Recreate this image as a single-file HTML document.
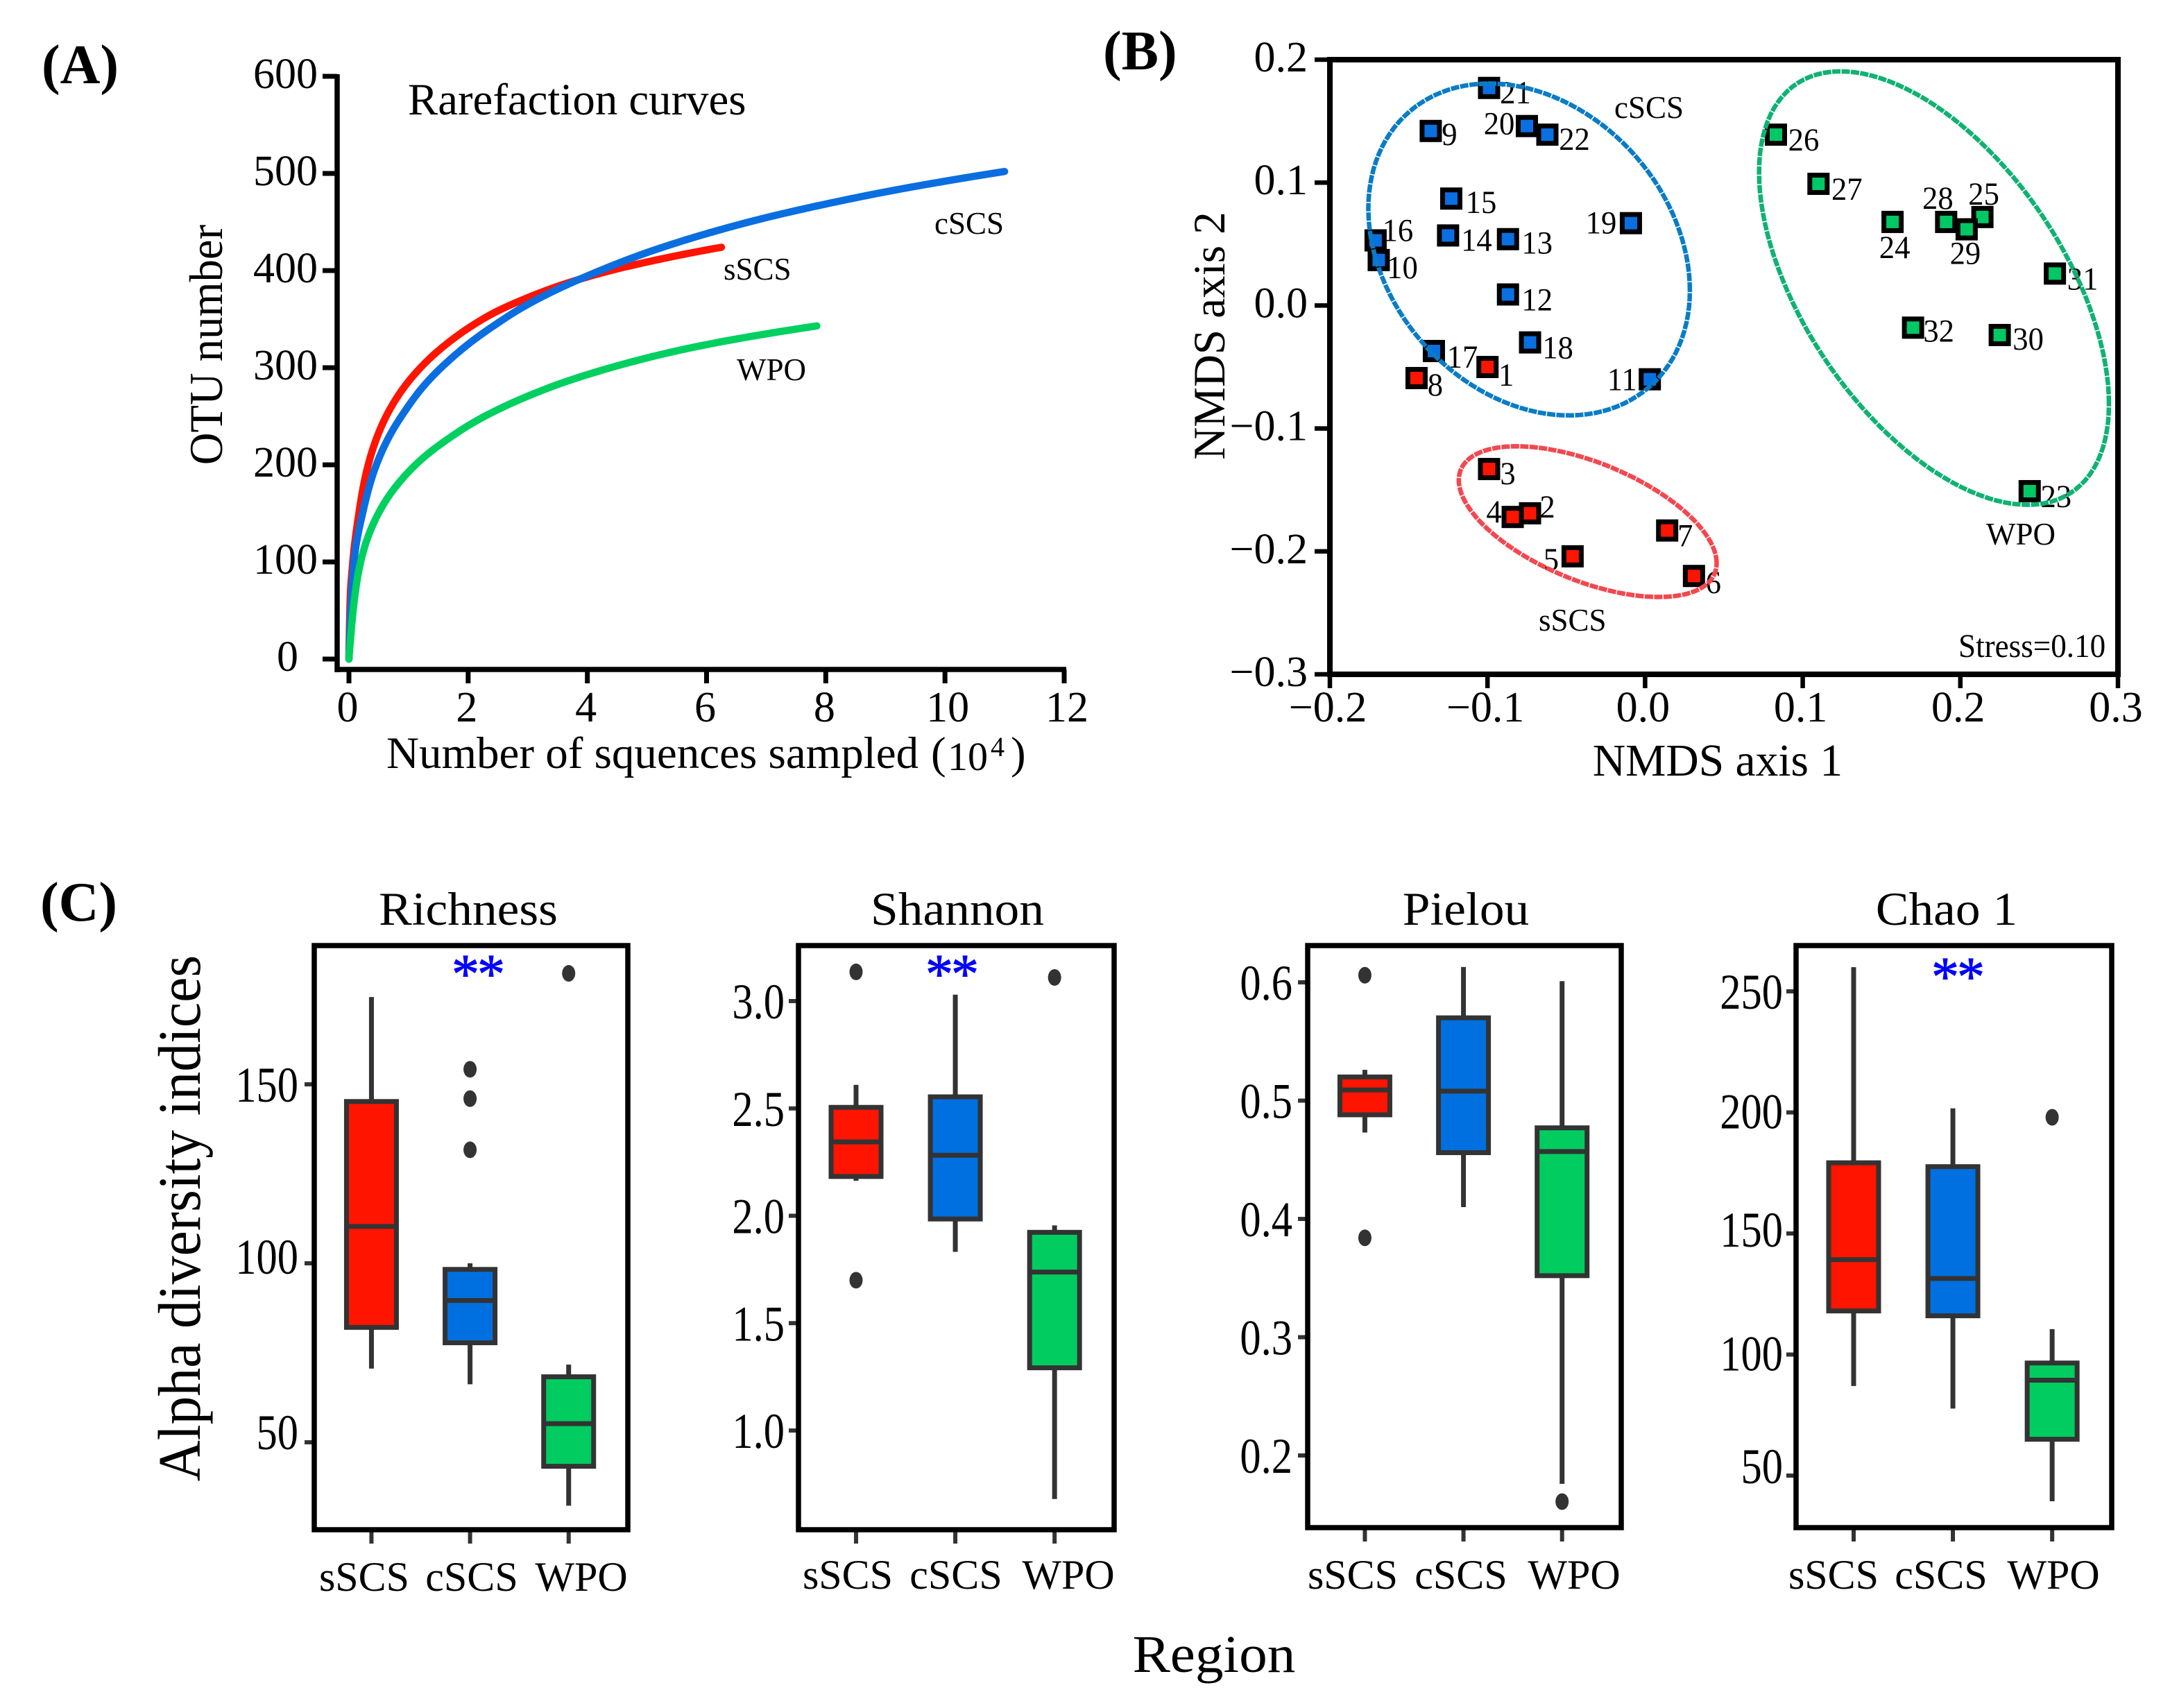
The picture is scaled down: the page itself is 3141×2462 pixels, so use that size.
<!DOCTYPE html>
<html lang="en">
<head>
<meta charset="utf-8">
<title>Rarefaction, NMDS and alpha diversity</title>
<style>
html,body{margin:0;padding:0;background:#fff;}
svg{display:block;font-family:"Liberation Serif","Times New Roman",serif;fill:#000;}
</style>
</head>
<body>
<svg id="chart" xmlns="http://www.w3.org/2000/svg" width="3141" height="2462" viewBox="0 0 3141 2462">
  <rect width="3141" height="2462" fill="#fff"/>

  <!-- static labels -->
  <text x="60" y="120" font-size="80" font-weight="bold">(A)</text>
  <text x="1590" y="100" font-size="80" font-weight="bold">(B)</text>
  <text x="58" y="1327" font-size="80" font-weight="bold">(C)</text>

  <text x="588" y="165" font-size="64.8">Rarefaction curves</text>
  <text x="557" y="1107" font-size="65">Number of squences sampled</text>
  <text x="1342" y="1107" font-size="65">(</text>
  <text x="1366" y="1110" font-size="58">10</text>
  <text x="1428" y="1090" font-size="40">4</text>
  <text x="1457" y="1107" font-size="65">)</text>
  <text transform="translate(320,497) rotate(-90) scale(.95,1)" text-anchor="middle" font-size="68">OTU number</text>
  <text x="1043" y="403" font-size="45">sSCS</text>
  <text x="1347" y="337" font-size="45">cSCS</text>
  <text x="1062" y="548" font-size="45">WPO</text>

  <text x="2476" y="1118" text-anchor="middle" font-size="65.5">NMDS axis 1</text>
  <text transform="translate(1765,484) rotate(-90)" text-anchor="middle" font-size="65">NMDS axis 2</text>
  <text x="2327" y="170" font-size="45">cSCS</text>
  <text x="2863" y="785" font-size="45">WPO</text>
  <text x="2218" y="909" font-size="45">sSCS</text>
  <text transform="translate(2823,947) scale(.94,1)" font-size="48">Stress=0.10</text>

  <text transform="translate(288,1756) rotate(-90) scale(.94,1)" text-anchor="middle" font-size="87">Alpha diversity indices</text>
  <text transform="translate(1750,2410) scale(1.07,1)" text-anchor="middle" font-size="76">Region</text>

  <g id="panelA"></g>
  <g id="panelB"></g>
  <g id="panelC"></g>
</svg>

<script>
/* ---------- Panel A data ---------- */
const rareXTicks = [0, 2, 4, 6, 8, 10, 12];
const rareYTicks = [0, 100, 200, 300, 400, 500, 600];
const sscsSeqs = [0, 0.015, 0.062, 0.159, 0.276, 0.41, 0.585, 0.857, 1.28, 1.67, 2.06, 2.45, 2.84, 3.61, 4.39, 5.09, 6.25];
const sscsOtus = [0, 50, 98, 147, 188, 218, 245, 274, 305, 326, 343, 357, 368, 386, 400, 410, 424];
const cscsSeqs = [0, 0.03, 0.081, 0.236, 0.43, 0.64, 0.935, 1.28, 1.67, 2.06, 2.45, 2.84, 3.61, 4, 5, 6, 7, 8, 9, 10, 11];
const cscsOtus = [0, 50, 98, 152, 195, 225, 255, 283, 307, 327, 344, 359.5, 384, 394.5, 418.5, 438, 454.5, 468.5, 481, 492, 502];
const wpoSeqs = [0, 0.03, 0.081, 0.159, 0.276, 0.43, 0.66, 0.9, 1.28, 1.67, 2.06, 2.84, 3.61, 4.39, 5.55, 7.85];
const wpoOtus = [0, 23, 56, 89, 118, 142, 167, 186, 209, 227, 242.5, 266.5, 285, 300, 318, 343];

/* ---------- Panel B data ---------- */
const nmdsXTicks = [-0.2, -0.1, 0, 0.1, 0.2, 0.3];
const nmdsYTicks = [-0.3, -0.2, -0.1, 0, 0.1, 0.2];
const sampleIds = [1,2,3,4,5,6,7,8,9,10,11,12,13,14,15,16,17,18,19,20,21,22,23,24,25,26,27,28,29,30,31,32];
const sampleGroup = ['s','s','s','s','s','s','s','s','c','c','c','c','c','c','c','c','c','c','c','c','c','c','w','w','w','w','w','w','w','w','w','w'];
const nmds1 = [-0.100,-0.073,-0.099,-0.084,-0.046,0.031,0.014,-0.145,-0.136,-0.169,0.003,-0.087,-0.087,-0.125,-0.123,-0.171,-0.134,-0.073,-0.009,-0.075,-0.099,-0.062,0.244,0.157,0.214,0.083,0.110,0.191,0.204,0.225,0.260,0.170];
const nmds2 = [-0.050,-0.169,-0.133,-0.172,-0.204,-0.220,-0.183,-0.059,0.142,0.037,-0.060,0.009,0.054,0.057,0.087,0.053,-0.037,-0.030,0.067,0.146,0.177,0.139,-0.151,0.068,0.072,0.139,0.099,0.068,0.062,-0.024,0.026,-0.018];
const ellipseCenterX = [-0.0364, -0.0736, 0.1833];
const ellipseCenterY = [-0.1758, 0.0456, 0.0142];
const ellipseHalfX = [0.0818, 0.102, 0.111];
const ellipseHalfY = [0.0613, 0.135, 0.1763];
const ellipseCorr = [-0.551, -0.247, -0.534];

/* ---------- Panel C data ---------- */
const regions = ['sSCS', 'cSCS', 'WPO'];
const richnessTicks = [50, 100, 150];
const richnessQ1 = [82.1, 77.8, 43.3];
const richnessMedian = [110.3, 89.6, 55.2];
const richnessQ3 = [145.2, 98.3, 68.3];
const richnessLow = [70.6, 66.2, 32.3];
const richnessHigh = [174.4, 100, 71.7];
const richnessOutliers = [[], [154.2, 146, 131.7], [181]];

const shannonTicks = [1.0, 1.5, 2.0, 2.5, 3.0];
const shannonQ1 = [2.183, 1.985, 1.292];
const shannonMedian = [2.344, 2.282, 1.738];
const shannonQ3 = [2.505, 2.554, 1.923];
const shannonLow = [2.163, 1.832, 0.681];
const shannonHigh = [2.61, 3.03, 1.955];
const shannonOutliers = [[3.136, 1.70], [], [3.11]];

const pielouTicks = [0.2, 0.3, 0.4, 0.5, 0.6];
const pielouQ1 = [0.488, 0.456, 0.352];
const pielouMedian = [0.509, 0.508, 0.457];
const pielouQ3 = [0.520, 0.570, 0.477];
const pielouLow = [0.473, 0.410, 0.176];
const pielouHigh = [0.526, 0.613, 0.601];
const pielouOutliers = [[0.606, 0.384], [], [0.161]];

const chaoTicks = [50, 100, 150, 200, 250];
const chaoQ1 = [118, 116, 65];
const chaoMedian = [139.2, 131.4, 89.4];
const chaoQ3 = [179.2, 177.6, 96.5];
const chaoLow = [87, 77.7, 39.4];
const chaoHigh = [260, 201.7, 110.5];
const chaoOutliers = [[], [], [198]];

/* ---------- helpers ---------- */
const NS = 'http://www.w3.org/2000/svg';
function add(parent, tag, attrs, content) {
  const n = document.createElementNS(NS, tag);
  for (const k in attrs) n.setAttribute(k, attrs[k]);
  if (content !== undefined) n.textContent = content;
  parent.appendChild(n);
  return n;
}
function linear(d0, d1, r0, r1) {
  return v => r0 + (v - d0) / (d1 - d0) * (r1 - r0);
}
/* Hermite spline through the read points, interpolated on a log-shifted
   x so the steep start of each rarefaction curve stays smooth */
function rarefactionPath(xs, ys, xScale, yScale) {
  const shift = 0.05;
  const t = xs.map(v => Math.log(v + shift));
  const n = xs.length, m = [];
  for (let i = 0; i < n; i++) {
    if (i === 0) m[i] = (ys[1] - ys[0]) / (t[1] - t[0]);
    else if (i === n - 1) m[i] = (ys[i] - ys[i - 1]) / (t[i] - t[i - 1]);
    else {
      const h0 = t[i] - t[i - 1], h1 = t[i + 1] - t[i];
      const s0 = (ys[i] - ys[i - 1]) / h0, s1 = (ys[i + 1] - ys[i]) / h1;
      m[i] = (s0 * h1 + s1 * h0) / (h0 + h1);
    }
  }
  const out = [];
  for (let i = 0; i < n - 1; i++) {
    const h = t[i + 1] - t[i];
    for (let k = 0; k < 16; k++) {
      const u = k / 16, u2 = u * u, u3 = u2 * u;
      const v = (2 * u3 - 3 * u2 + 1) * ys[i] + (u3 - 2 * u2 + u) * h * m[i] +
                (-2 * u3 + 3 * u2) * ys[i + 1] + (u3 - u2) * h * m[i + 1];
      const xv = Math.exp(t[i] + u * h) - shift;
      out.push(xScale(xv).toFixed(2) + ' ' + yScale(v).toFixed(2));
    }
  }
  out.push(xScale(xs[n - 1]).toFixed(2) + ' ' + yScale(ys[n - 1]).toFixed(2));
  return 'M' + out.join('L');
}
const minus = v => String(v).replace('-', '\u2212');

/* ---------- Panel A ---------- */
(function () {
  const g = document.getElementById('panelA');
  const x = linear(0, 12, 503, 1534);
  const y = linear(0, 600, 950, 110);

  const yAxis = add(g, 'line', {x1: 486, x2: 486, y1: 107, y2: 969, stroke: '#000', 'stroke-width': 7.5});
  
  
  const xAxis = add(g, 'line', {x1: 483, x2: 1537, y1: 965, y2: 965, stroke: '#000', 'stroke-width': 7.5});
  
  

  rareYTicks.forEach(v => {
    const t = add(g, 'line', {x1: 465, x2: 486, y1: y(v), y2: y(v), stroke: '#000', 'stroke-width': 7});
    
    
    const l = add(g, 'text', {x: v === 0 ? 430 : 458, y: y(v) + 17, 'text-anchor': 'end', 'font-size': 62}, v);
    
    
  });
  rareXTicks.forEach(v => {
    const t = add(g, 'line', {x1: x(v), x2: x(v), y1: 965, y2: 985, stroke: '#000', 'stroke-width': 7});
    
    
    const l = add(g, 'text', {x: x(v) + (v >= 10 ? 4 : -2), y: 1040, 'text-anchor': 'middle', 'font-size': 62}, v);
    
    
  });

  const red = add(g, 'path', {d: rarefactionPath(sscsSeqs, sscsOtus, x, y), fill: 'none', stroke: '#ff1400', 'stroke-width': 10.5, 'stroke-linecap': 'round', 'stroke-linejoin': 'round'});
  
  
  const blue = add(g, 'path', {d: rarefactionPath(cscsSeqs, cscsOtus, x, y), fill: 'none', stroke: '#0a6ee0', 'stroke-width': 10.5, 'stroke-linecap': 'round', 'stroke-linejoin': 'round'});
  
  
  const green = add(g, 'path', {d: rarefactionPath(wpoSeqs, wpoOtus, x, y), fill: 'none', stroke: '#00d060', 'stroke-width': 10.5, 'stroke-linecap': 'round', 'stroke-linejoin': 'round'});
  
  
})();

/* ---------- Panel B ---------- */
(function () {
  const g = document.getElementById('panelB');
  const x = linear(-0.2, 0.3, 1917, 3053);
  const y = linear(-0.3, 0.2, 972, 86);
  const fills = {s: '#ff1400', c: '#0a6fe0', w: '#00c864'};
  const labelDx = [27,25,27,-27,-31,28,26,27,27,34,-40,42,42,41,43,32,41,40,-43,-40,38,39,38,3,2,40,41,-12,-2,41,40,37];
  const labelDy = [11,-10,6,-8,4,9,7,9,4,10,0,7,5,6,5,-15,8,7,-1,-4,6,6,7,36,-34,7,7,-35,34,5,7,4];

  const frame = add(g, 'rect', {x: 1917, y: 86, width: 1136, height: 886, fill: 'none', stroke: '#000', 'stroke-width': 8});
  
  

  nmdsYTicks.forEach(v => {
    const t = add(g, 'line', {x1: 1895, x2: 1917, y1: y(v), y2: y(v), stroke: '#000', 'stroke-width': 6.5});
    
    
    const l = add(g, 'text', {x: 1885, y: y(v) + 17, 'text-anchor': 'end', 'font-size': 62}, minus(v.toFixed(1)));
    
    
  });
  nmdsXTicks.forEach(v => {
    const t = add(g, 'line', {x1: x(v), x2: x(v), y1: 972, y2: 992, stroke: '#000', 'stroke-width': 6.5});
    
    
    const l = add(g, 'text', {x: x(v) - 3, y: 1040, 'text-anchor': 'middle', 'font-size': 62}, minus(v.toFixed(1)));
    
    
  });

  sampleIds.forEach((id, i) => {
    const px = x(nmds1[i]), py = y(nmds2[i]);
    const m = add(g, 'rect', {x: px - 12.5, y: py - 12.5, width: 25, height: 25, fill: fills[sampleGroup[i]], stroke: '#000', 'stroke-width': 7});
    
    
    const l = add(g, 'text', {transform: 'translate(' + (px + labelDx[i]) + ',' + (py + labelDy[i] + 16) + ') scale(.95,1)', 'text-anchor': 'middle', 'font-size': 47}, id);
    
    
  });

  const strokes = ['#f4474f', '#0a7cc6', '#0fb272'];
  ellipseCenterX.forEach((cx, k) => {
    const pts = [];
    const rho = ellipseCorr[k];
    const s = Math.sqrt(1 - rho * rho);
    for (let a = 0; a < 360; a += 3) {
      const t = a * Math.PI / 180;
      const dataX = cx + ellipseHalfX[k] * Math.cos(t);
      const dataY = ellipseCenterY[k] + ellipseHalfY[k] * (rho * Math.cos(t) + s * Math.sin(t));
      pts.push(x(dataX).toFixed(1) + ' ' + y(dataY).toFixed(1));
    }
    const e = add(g, 'path', {d: 'M' + pts.join('L') + 'Z', fill: 'none', stroke: strokes[k], 'stroke-width': 6.5, 'stroke-dasharray': '12 1.5'});
    
    
  });
})();

/* ---------- Panel C ---------- */
(function () {
  const root = document.getElementById('panelC');
  const boxFills = ['#ff1400', '#0070e0', '#00cc60'];
  const dark = '#333';

  function panel(cfg) {
    const g = add(root, 'g', {});
    
    
    const W = cfg.right - cfg.left;
    const y = linear(cfg.d0, cfg.d1, cfg.r0, cfg.r1);
    const cx = i => cfg.left + W * (0.58 + i) / 3.18;

    const title = add(g, 'text', {transform: 'translate(' + cfg.titleX + ',1333) scale(1.05,1)', 'text-anchor': 'middle', 'font-size': 68}, cfg.title);
    
    

    cfg.ticks.forEach((v, k) => {
      const t = add(g, 'line', {x1: cfg.left - 14, x2: cfg.left, y1: y(v), y2: y(v), stroke: dark, 'stroke-width': 6});
      
      
      const shift = cfg.labelShift ? cfg.labelShift[k] : 0;
      const l = add(g, 'text', {transform: 'translate(' + (cfg.left - cfg.labelGap) + ',' + (y(v) + 25 + shift) + ') scale(.84,1)', 'text-anchor': 'end', 'font-size': 72}, cfg.digits ? v.toFixed(cfg.digits) : v);
      
      
    });

    regions.forEach((r, i) => {
      const c = cx(i);
      const t = add(g, 'line', {x1: c, x2: c, y1: cfg.bottom, y2: cfg.bottom + 20, stroke: dark, 'stroke-width': 6});
      
      
      const l = add(g, 'text', {x: cfg.left + cfg.xLabelOffset[i], y: cfg.xLabelY, 'text-anchor': 'middle', 'font-size': 60}, r);
      
      

      const wh = add(g, 'line', {x1: c, x2: c, y1: y(cfg.high[i]), y2: y(cfg.low[i]), stroke: dark, 'stroke-width': 7});
      
      
      const box = add(g, 'rect', {x: c - 36, y: y(cfg.q3[i]), width: 72, height: y(cfg.q1[i]) - y(cfg.q3[i]), fill: boxFills[i], stroke: dark, 'stroke-width': 7});
      
      
      const med = add(g, 'line', {x1: c - 36, x2: c + 36, y1: y(cfg.median[i]), y2: y(cfg.median[i]), stroke: dark, 'stroke-width': 7});
      
      
      cfg.outliers[i].forEach(v => {
        const o = add(g, 'ellipse', {cx: c, cy: y(v), rx: 9.5, ry: 12, fill: dark});
        
        
      });
    });

    const frame = add(g, 'rect', {x: cfg.left, y: 1363, width: W, height: cfg.bottom - 1363, fill: 'none', stroke: '#000', 'stroke-width': 7.5});
    
    

    if (cfg.starX) {
      const s = add(g, 'text', {x: cfg.starX, y: cfg.starY + 37.6, 'text-anchor': 'middle', 'font-size': 80, 'letter-spacing': -3, fill: '#0000ff', stroke: '#0000ff', 'stroke-width': 1}, '**');
      
      
    }
  }

  panel({name: 'richness', title: 'Richness', titleX: 675, left: 453, right: 905, bottom: 2205, labelGap: 23,
    d0: 50, d1: 150, r0: 2079, r1: 1563, digits: 0, ticks: richnessTicks, labelShift: [-15, -10, 0],
    q1: richnessQ1, median: richnessMedian, q3: richnessQ3, low: richnessLow, high: richnessHigh, outliers: richnessOutliers,
    xLabelOffset: [72, 227, 385], xLabelY: 2293, starX: 688, starY: 1393});
  panel({name: 'shannon', title: 'Shannon', titleX: 1380, left: 1151, right: 1606, bottom: 2205, labelGap: 20,
    d0: 1, d1: 3, r0: 2062, r1: 1443, digits: 1, ticks: shannonTicks,
    q1: shannonQ1, median: shannonMedian, q3: shannonQ3, low: shannonLow, high: shannonHigh, outliers: shannonOutliers,
    xLabelOffset: [71, 227, 389], xLabelY: 2290, starX: 1371, starY: 1393});
  panel({name: 'pielou', title: 'Pielou', titleX: 2113, left: 1885, right: 2337, bottom: 2202, labelGap: 22,
    d0: 0.2, d1: 0.6, r0: 2098, r1: 1416, digits: 1, ticks: pielouTicks,
    q1: pielouQ1, median: pielouMedian, q3: pielouQ3, low: pielouLow, high: pielouHigh, outliers: pielouOutliers,
    xLabelOffset: [65, 221, 384], xLabelY: 2290});
  panel({name: 'chao', title: 'Chao 1', titleX: 2806, left: 2589, right: 3044, bottom: 2202, labelGap: 19,
    d0: 50, d1: 250, r0: 2127, r1: 1429, digits: 0, ticks: chaoTicks, labelShift: [-14, -2, -6, -2, 0],
    q1: chaoQ1, median: chaoMedian, q3: chaoQ3, low: chaoLow, high: chaoHigh, outliers: chaoOutliers,
    xLabelOffset: [54, 209, 371], xLabelY: 2290, starX: 2821, starY: 1397});
})();
</script>
</body>
</html>
